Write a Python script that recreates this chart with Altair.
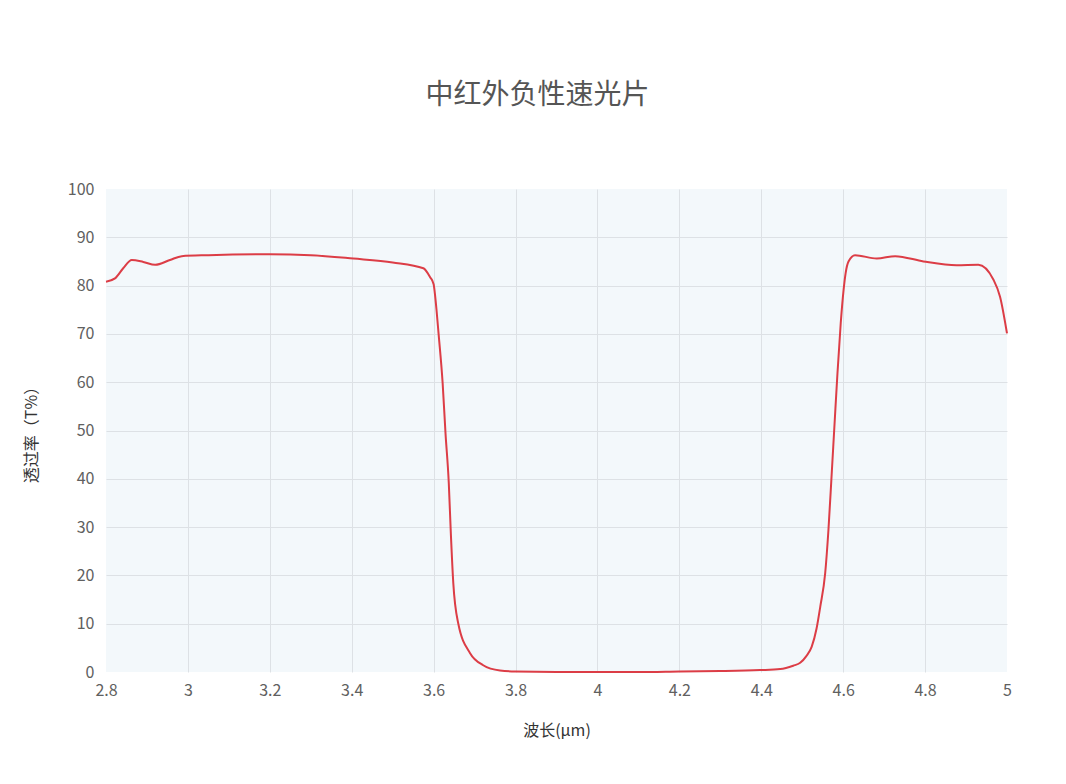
import altair as alt
import pandas as pd

wavelength = [2.80, 2.822, 2.842, 2.863, 2.891, 2.92, 2.956, 2.985, 3.05, 3.2, 3.3, 3.404, 3.5, 3.575,
              3.591, 3.60, 3.603, 3.607, 3.612, 3.622, 3.629, 3.637, 3.642, 3.648, 3.66, 3.689, 3.721, 3.762,
              3.80, 3.9, 4.0, 4.1, 4.2, 4.3, 4.397, 4.446, 4.478, 4.495, 4.51, 4.523, 4.535, 4.544,
              4.556, 4.564, 4.572, 4.579, 4.586, 4.594, 4.601, 4.606, 4.613, 4.629, 4.682, 4.727, 4.796,
              4.877, 4.93, 4.967, 4.983, 5.0]
transmission = [80.8, 81.5, 83.6, 85.3, 84.9, 84.3, 85.3, 86.1, 86.3, 86.5, 86.3, 85.6, 84.8, 83.6,
                81.8, 80.3, 78.4, 75.0, 70.1, 59.8, 49.4, 39.1, 28.7, 18.4, 10.1, 3.9, 1.4, 0.3,
                0.1, 0.0, 0.0, 0.0, 0.1, 0.2, 0.4, 0.6, 1.3, 1.9, 3.3, 5.2, 9.0, 13.5,
                20.4, 29.4, 41.1, 51.5, 61.8, 72.2, 79.1, 82.6, 85.0, 86.3, 85.6, 86.1, 85.0,
                84.2, 84.3, 81.2, 77.7, 70.1]
x_ticks = [2.8, 3.0, 3.2, 3.4, 3.6, 3.8, 4.0, 4.2, 4.4, 4.6, 4.8, 5.0]
y_ticks = [0, 10, 20, 30, 40, 50, 60, 70, 80, 90, 100]

df = pd.DataFrame({"wl": wavelength, "t": transmission})

FONT = "Noto Sans CJK SC"

line = alt.Chart(df).mark_line(
    interpolate="monotone", color="#dc3d46", strokeWidth=2
).encode(
    x=alt.X("wl:Q", scale=alt.Scale(domain=[2.8, 5.0], nice=False, zero=False),
            axis=alt.Axis(values=x_ticks, format="~g", title="波长(μm)",
                          titlePadding=24, labelPadding=10, labelFlush=False,
                          gridOpacity={"condition": {"test": "datum.value <= 2.8001 || datum.value >= 4.9999", "value": 0}, "value": 1})),
    y=alt.Y("t:Q", scale=alt.Scale(domain=[0, 100], nice=False),
            axis=alt.Axis(values=y_ticks, title="透过率（T%）", titlePadding=28, labelPadding=12,
                          labelFlush=False,
                          gridOpacity={"condition": {"test": "datum.value <= 0 || datum.value >= 100", "value": 0}, "value": 1})),
)

chart = line.properties(
    width=901, height=483,
    background="white",
    title=alt.TitleParams("中红外负性速光片", fontSize=28, font=FONT, color="#555555",
                          fontWeight="normal", offset=71, dx=-19),
    padding={"left": 98, "top": 181, "right": 51, "bottom": 100},
    autosize=alt.AutoSizeParams(type="none"),
).configure_view(
    fill="#f3f8fb", stroke=None
).configure_axis(
    domain=False, ticks=False, gridColor="#dde1e5", gridWidth=1,
    labelFont=FONT, labelFontSize=16, labelColor="#606060",
    titleFont=FONT, titleFontSize=16, titleColor="#333333", titleFontWeight="normal",
)

chart.save("out.html", embed_options={"renderer": "svg", "actions": False})
